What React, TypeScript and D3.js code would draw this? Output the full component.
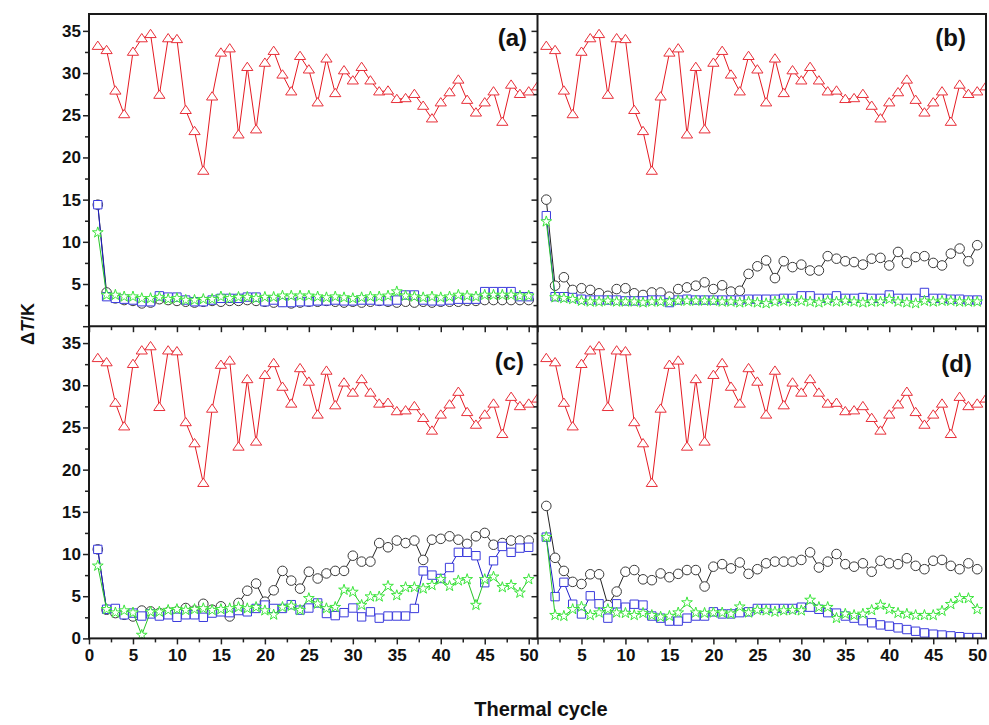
import React, { useEffect, useRef } from 'react'
import * as d3 from 'd3'

// thermal cycle index is position in array + 1
const triangles = [33.2, 32.7, 27.9, 25.1, 32.5, 34.1, 34.6, 27.4, 34.1, 34.0,
    25.6, 23.1, 18.4, 27.2, 32.4, 32.9, 22.7, 30.7, 23.3, 31.2,
    32.6, 29.8, 27.8, 32.0, 30.4, 26.5, 31.7, 27.6, 30.3, 29.1,
    30.7, 29.1, 27.8, 27.9, 26.9, 27.0, 27.5, 26.1, 24.6, 26.5,
    27.7, 29.2, 26.8, 25.3, 26.5, 27.8, 24.2, 28.6, 27.5, 27.8, 28.4]

const circlesA = [14.4, 4.0, 3.3, 3.1, 3.0, 2.7, 2.8, 3.2, 3.1, 3.0,
    2.9, 2.8, 2.9, 3.0, 2.9, 3.0, 3.0, 3.1, 3.0, 2.9,
    2.8, 2.9, 2.7, 2.8, 2.9, 2.9, 3.0, 2.9, 2.8, 2.9,
    2.8, 2.9, 3.0, 2.9, 2.8, 2.9, 2.8, 2.9, 2.8, 2.9,
    2.9, 2.9, 3.0, 3.0, 3.1, 3.1, 3.1, 3.1, 3.1, 3.1]
const squaresA = [14.4, 3.5, 3.3, 3.2, 3.1, 2.9, 2.9, 3.6, 3.45, 3.45,
    3.1, 2.9, 2.9, 3.1, 3.3, 3.3, 3.3, 3.45, 3.45, 2.9,
    3.1, 2.8, 2.8, 2.9, 2.9, 3.0, 3.0, 3.1, 3.0, 3.0,
    3.1, 3.1, 3.0, 3.0, 3.1, 3.7, 3.7, 3.1, 3.0, 3.0,
    3.1, 3.2, 3.2, 3.2, 4.1, 4.1, 4.1, 4.1, 3.5, 3.5]
const starsA = [11.1, 3.7, 3.7, 3.5, 3.5, 3.3, 3.3, 3.45, 3.2, 3.3,
    3.1, 3.1, 3.2, 3.2, 3.5, 3.3, 3.45, 3.45, 3.3, 3.45,
    3.45, 3.6, 3.6, 3.6, 3.6, 3.5, 3.4, 3.5, 3.4, 3.3,
    3.4, 3.5, 3.5, 3.6, 4.1, 3.6, 3.5, 3.4, 3.5, 3.4,
    3.5, 3.7, 3.6, 3.5, 3.7, 3.7, 3.7, 3.7, 3.6, 3.6]

const circlesB = [15.0, 4.8, 5.8, 4.3, 4.5, 4.3, 3.9, 3.6, 4.4, 4.5,
    3.9, 3.7, 4.0, 4.0, 3.5, 4.4, 4.6, 4.8, 5.2, 4.4,
    4.85, 4.1, 4.2, 6.2, 7.1, 7.8, 5.7, 7.7, 7.0, 7.3,
    6.6, 6.6, 8.3, 8.0, 7.7, 7.6, 7.3, 8.0, 8.1, 7.2,
    8.8, 7.5, 8.2, 8.3, 7.5, 7.2, 8.6, 9.2, 7.7, 9.6]
const squaresB = [13.1, 3.5, 3.5, 3.4, 3.2, 3.1, 3.1, 3.1, 3.1, 3.0,
    3.0, 3.0, 3.1, 3.1, 2.8, 3.1, 3.2, 3.1, 3.1, 3.1,
    3.1, 3.1, 3.1, 3.2, 3.2, 3.2, 3.2, 3.3, 3.3, 3.6,
    3.6, 3.3, 3.3, 3.6, 3.3, 3.3, 3.4, 3.3, 3.3, 3.7,
    3.3, 3.3, 3.3, 4.0, 3.3, 3.3, 3.2, 3.2, 3.1, 3.1]
const starsB = [12.4, 3.4, 3.3, 3.2, 3.0, 2.9, 2.9, 3.0, 2.9, 2.9,
    2.9, 2.8, 2.9, 2.9, 2.9, 3.0, 3.0, 3.0, 3.0, 3.0,
    2.9, 2.9, 2.8, 2.9, 2.8, 2.7, 2.9, 3.0, 2.9, 3.0,
    2.9, 2.8, 3.0, 2.9, 3.0, 2.9, 2.8, 2.9, 2.9, 3.2,
    2.9, 2.8, 2.7, 3.0, 2.9, 3.0, 3.0, 2.9, 2.9, 2.9]

const circlesC = [10.55, 3.4, 3.0, 2.8, 2.6, 3.3, 3.2, 3.0, 3.1, 3.2,
    3.6, 3.3, 4.1, 3.4, 3.8, 2.6, 4.2, 5.65, 6.5, 4.35,
    5.7, 8.0, 6.85, 5.9, 7.9, 7.1, 7.7, 8.0, 8.0, 9.8,
    9.1, 9.1, 11.3, 10.8, 11.6, 11.3, 11.6, 9.3, 11.7, 11.8,
    12.1, 11.7, 11.2, 12.1, 12.5, 11.1, 11.3, 11.6, 11.6, 11.6]
const squaresC = [10.55, 3.45, 3.55, 2.8, 3.0, 2.65, 2.9, 2.65, 2.8, 2.5,
    2.8, 2.8, 2.5, 3.0, 3.15, 3.05, 3.3, 3.15, 3.55, 3.95,
    3.55, 3.55, 4.0, 3.35, 3.6, 4.2, 2.95, 2.7, 3.05, 3.6,
    2.55, 3.15, 2.4, 2.65, 2.65, 2.65, 3.55, 8.0, 7.5, 7.1,
    8.4, 10.2, 10.2, 9.8, 6.6, 9.2, 10.9, 10.2, 10.7, 10.8]
const starsC = [8.6, 3.45, 3.05, 3.3, 3.05, 0.4, 3.15, 3.15, 3.35, 3.45,
    3.35, 3.45, 3.55, 3.35, 3.45, 3.55, 3.7, 3.55, 3.7, 3.3,
    2.8, 3.7, 3.85, 3.35, 4.75, 4.1, 3.55, 3.7, 5.75, 5.5,
    3.95, 4.95, 4.95, 6.2, 5.1, 6.05, 6.05, 5.9, 6.3, 7.0,
    6.2, 6.85, 7.0, 3.95, 7.0, 7.3, 6.05, 6.3, 5.4, 7.0]

const circlesD = [15.7, 9.55, 8.0, 6.7, 6.45, 7.6, 7.6, 3.95, 5.55, 7.9,
    8.1, 7.0, 6.9, 7.7, 7.25, 7.65, 8.1, 8.1, 6.15, 8.5,
    8.8, 8.3, 9.0, 7.65, 8.2, 8.9, 9.1, 9.1, 9.1, 9.3,
    10.2, 8.4, 9.1, 10.0, 8.8, 8.5, 8.9, 7.9, 9.2, 8.9,
    8.8, 9.5, 8.6, 8.2, 9.2, 9.3, 8.6, 8.2, 8.9, 8.2]
const squaresD = [12.0, 4.95, 6.65, 4.05, 2.9, 5.05, 4.1, 2.4, 4.1, 3.7,
    4.05, 3.95, 2.65, 2.4, 2.05, 2.05, 2.4, 2.65, 2.65, 3.15,
    2.9, 2.9, 3.05, 3.15, 3.55, 3.55, 3.55, 3.55, 3.55, 3.7,
    3.7, 3.45, 3.05, 3.0, 2.65, 2.4, 2.1, 1.85, 1.6, 1.45,
    1.25, 1.05, 0.85, 0.65, 0.5, 0.4, 0.3, 0.2, 0.1, 0.1]
const starsD = [12.0, 2.75, 2.65, 3.45, 3.75, 2.75, 3.05, 3.45, 3.05, 3.0,
    2.75, 3.0, 2.75, 2.55, 2.65, 3.05, 4.25, 3.05, 3.0, 3.05,
    3.05, 2.9, 3.75, 3.05, 3.35, 3.3, 3.15, 3.3, 3.35, 3.3,
    4.55, 3.7, 3.7, 2.4, 2.9, 2.75, 2.9, 3.35, 3.95, 3.45,
    3.0, 2.9, 2.75, 2.75, 2.75, 3.25, 4.05, 4.75, 4.75, 3.45]

const panelLabels = ['(a)', '(b)', '(c)', '(d)']
const xMajor = [0, 5, 10, 15, 20, 25, 30, 35, 40, 45, 50]
const xMinor = [2.5, 7.5, 12.5, 17.5, 22.5, 27.5, 32.5, 37.5, 42.5, 47.5]
const yMajor = [0, 5, 10, 15, 20, 25, 30, 35]
const yMinor = [2.5, 7.5, 12.5, 17.5, 22.5, 27.5, 32.5]

// flattened triangle, centred on the point
const flatTriangle = {
    draw(ctx: any, size: number) {
        const w = Math.sqrt(size) * 1.5
        const h = w * 0.74
        ctx.moveTo(0, -h * 0.6)
        ctx.lineTo(w / 2, h * 0.4)
        ctx.lineTo(-w / 2, h * 0.4)
        ctx.closePath()
    }
}

const App = () => {
    const svgRef = useRef<SVGSVGElement>(null)

    useEffect(() => {
        const svg = d3.select(svgRef.current)
        svg.selectAll('*').remove()

        const width = 989
        const height = 725
        const left = 89
        const top = 14
        const panelW = 448.5
        const panelH = 312.2
        const font = '"Liberation Sans", Arial, sans-serif'

        svg.attr('width', width).attr('height', height)

        const panels = [
            { col: 0, row: 0, sets: [circlesA, squaresA, starsA], lab: [527, 46] },
            { col: 1, row: 0, sets: [circlesB, squaresB, starsB], lab: [966, 46] },
            { col: 0, row: 1, sets: [circlesC, squaresC, starsC], lab: [524, 370] },
            { col: 1, row: 1, sets: [circlesD, squaresD, starsD], lab: [972, 372] },
        ]

        const styles = [
            { sym: d3.symbolCircle, size: 72, stroke: '#3a3a3a', line: '#222' },
            { sym: d3.symbolSquare, size: 70, stroke: '#3b3bdc', line: '#1f1fc8' },
            { sym: d3.symbolStar, size: 36, stroke: '#3de63d', line: '#27c427' },
        ]

        const defs = svg.append('defs')

        panels.forEach((p, pi) => {
            const x = d3.scaleLinear().domain([0, 51]).range([left + p.col * panelW, left + (p.col + 1) * panelW])
            const y = d3.scaleLinear().domain([0, 37]).range([top + (p.row + 1) * panelH, top + p.row * panelH])

            defs.append('clipPath').attr('id', `clip${pi}`)
                .append('rect')
                .attr('x', x(0)).attr('y', y(37))
                .attr('width', x(51) - x(0)).attr('height', y(0) - y(37))

            const g = svg.append('g').attr('clip-path', `url(#clip${pi})`)

            const drawSeries = (vals: number[], sym: any, size: number, stroke: string, line: string) => {
                const pts = vals.map((v, i) => [x(i + 1), y(v)] as [number, number])
                g.append('path')
                    .attr('d', d3.line()(pts))
                    .attr('fill', 'none')
                    .attr('stroke', line)
                    .attr('stroke-width', 1)
                g.append('g')
                    .selectAll('path')
                    .data(pts)
                    .join('path')
                    .attr('transform', d => `translate(${d[0]},${d[1]})`)
                    .attr('d', d3.symbol().type(sym).size(size)())
                    .attr('fill', 'white')
                    .attr('stroke', stroke)
                    .attr('stroke-width', 1)
            }

            drawSeries(triangles, flatTriangle, 56, '#e8303a', '#e41a22')
            p.sets.forEach((vals, si) => {
                const s = styles[si]
                drawSeries(vals, s.sym, s.size, s.stroke, s.line)
            })

            // minor ticks
            svg.append('g')
                .attr('transform', `translate(0,${y(0)})`)
                .call(d3.axisBottom(x).tickValues(xMinor).tickSize(4).tickFormat(() => ''))
                .call(a => a.select('.domain').remove())
            svg.append('g')
                .attr('transform', `translate(${x(0)},0)`)
                .call(d3.axisLeft(y).tickValues(yMinor).tickSize(4).tickFormat(() => ''))
                .call(a => a.select('.domain').remove())

            // major ticks, labels only on outer edges
            const xa = svg.append('g')
                .attr('transform', `translate(0,${y(0)})`)
                .call(d3.axisBottom(x).tickValues(xMajor).tickSize(6).tickPadding(4.5)
                    .tickFormat(d => (p.row === 1 && !(p.col === 1 && d === 0)) ? String(d) : ''))
            xa.select('.domain').remove()

            const ya = svg.append('g')
                .attr('transform', `translate(${x(0)},0)`)
                .call(d3.axisLeft(y).tickValues(yMajor).tickSize(6).tickPadding(2)
                    .tickFormat(d => (p.col === 0 && !(p.row === 0 && d === 0)) ? String(d) : ''))
            ya.select('.domain').remove()

            svg.selectAll('.tick line').attr('stroke', '#222').attr('stroke-width', 1.5)
            svg.selectAll('.tick text')
                .attr('fill', '#111')
                .style('font-family', font)
                .style('font-weight', 'bold')
                .style('font-size', '17px')

            svg.append('text')
                .attr('x', p.lab[0]).attr('y', p.lab[1])
                .attr('text-anchor', 'end')
                .style('font-family', font)
                .style('font-weight', 'bold')
                .style('font-size', '24px')
                .attr('fill', '#111')
                .text(panelLabels[pi])
        })

        // frame and dividers
        const frame = svg.append('g').attr('fill', 'none').attr('stroke', '#1a1a1a').attr('stroke-width', 2)
        frame.append('rect').attr('x', left).attr('y', top).attr('width', panelW * 2).attr('height', panelH * 2)
        frame.append('line').attr('x1', left + panelW).attr('x2', left + panelW).attr('y1', top).attr('y2', top + panelH * 2)
        frame.append('line').attr('x1', left).attr('x2', left + panelW * 2).attr('y1', top + panelH).attr('y2', top + panelH)

        svg.append('text')
            .attr('x', 541).attr('y', 716)
            .attr('text-anchor', 'middle')
            .style('font-family', font)
            .style('font-weight', 'bold')
            .style('font-size', '20px')
            .attr('fill', '#111')
            .text('Thermal cycle')

        const yl = svg.append('text')
            .attr('transform', 'translate(34,324) rotate(-90)')
            .attr('text-anchor', 'middle')
            .style('font-family', font)
            .style('font-weight', 'bold')
            .style('font-size', '18px')
            .attr('fill', '#111')
        yl.append('tspan').text('Δ')
        yl.append('tspan').style('font-style', 'italic').text('T')
        yl.append('tspan').text('/K')
    }, [])

    return (
        <svg ref={svgRef} style={{ position: 'absolute', left: 0, top: 0, background: 'white' }} />
    )
}

export default App
